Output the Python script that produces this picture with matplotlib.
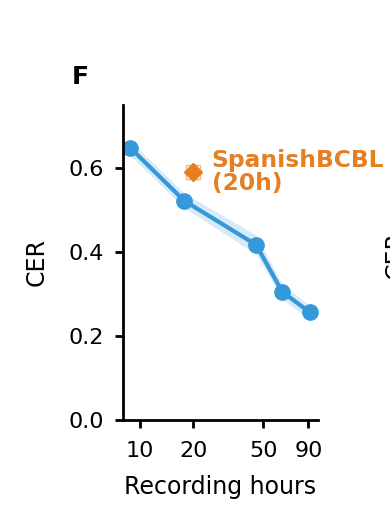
import matplotlib
matplotlib.use("Agg")
import matplotlib.pyplot as plt
from matplotlib.ticker import NullLocator, FixedLocator, FixedFormatter

hours = [8.8, 17.8, 45.5, 64, 92]
cer = [0.648, 0.522, 0.417, 0.305, 0.256]
cer_lo = [0.630, 0.505, 0.395, 0.288, 0.238]
cer_hi = [0.664, 0.540, 0.440, 0.322, 0.272]
ref_hours = [20]
ref_cer = [0.59]
ref_label = "SpanishBCBL\n(20h)"
xticks = [10, 20, 50, 90]
yticks = [0.0, 0.2, 0.4, 0.6]

blue = "#3498DB"
orange = "#E67E22"

plt.rcParams['font.family'] = ['DejaVu Sans']
fig = plt.figure(figsize=(3.9, 5.25), dpi=100)
ax = fig.add_axes([123/390, 1-420/525, (318-123)/390, (420-105)/525])

ax.fill_between(hours, cer_lo, cer_hi, color=blue, alpha=0.2, lw=0)
ax.plot(hours, cer, '-o', color=blue, lw=3, ms=11)
ax.plot(ref_hours, ref_cer, 's', mfc='none', mec=orange, mew=1.0, ms=9.5,
        ls='none', alpha=0.55)
ax.plot(ref_hours, ref_cer, 'D', color=orange, ms=9)
ax.text(ref_hours[0]*1.27, ref_cer[0], ref_label, color=orange, fontsize=16.8,
        fontweight='bold', va='center', ha='left', linespacing=1.0, clip_on=False)

ax.set_xscale('log')
ax.set_xlim(8.0, 102)
ax.set_ylim(0, 0.75)
ax.xaxis.set_major_locator(FixedLocator(xticks))
ax.xaxis.set_major_formatter(FixedFormatter([str(t) for t in xticks]))
ax.xaxis.set_minor_locator(NullLocator())
ax.set_yticks(yticks)
ax.set_yticklabels([f"{t:.1f}" for t in yticks])
for s in ['top', 'right']:
    ax.spines[s].set_visible(False)
for s in ['left', 'bottom']:
    ax.spines[s].set_linewidth(2)
ax.tick_params(width=2, length=6, labelsize=16)
ax.tick_params(axis='x', pad=9)
ax.tick_params(axis='y', pad=8)
ax.set_xlabel("Recording hours", fontsize=17, labelpad=10)
ax.set_ylabel("CER", fontsize=17, labelpad=14)

fig.text(80/390, 1-77/525, "F", fontsize=18, fontweight='bold', ha='center', va='center')
fig.text(396/390, 1-255/525, "CER", fontsize=17, rotation=90, ha='center', va='center')

fig.savefig("out.png", dpi=100)
